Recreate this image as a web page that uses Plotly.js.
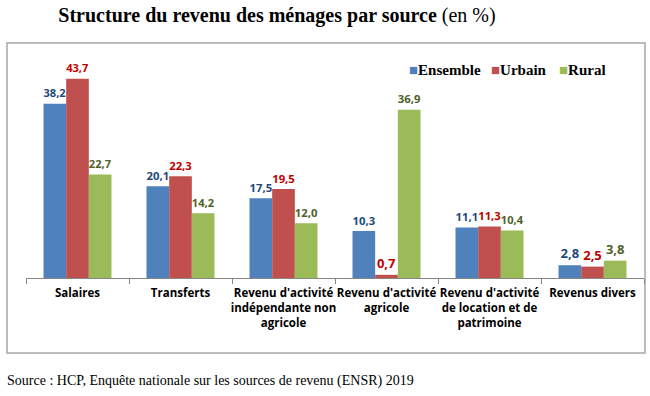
<!DOCTYPE html>
<html>
<head>
<meta charset="utf-8">
<script src="https://cdn.plot.ly/plotly-3.0.1.min.js"></script>
<style>html,body{margin:0;padding:0;background:#fff;}#chart{width:650px;height:396px;}</style>
</head>
<body>
<div id="chart"></div>
<script>
var categories = ["Salaires", "Transferts", "Revenu d'activité<br>indépendante non<br>agricole", "Revenu d'activité<br>agricole", "Revenu d'activité<br>de location et de<br>patrimoine", "Revenus divers"];
var ensemble = [38.2, 20.1, 17.5, 10.3, 11.1, 2.8];
var urbain = [43.7, 22.3, 19.5, 0.7, 11.3, 2.5];
var rural = [22.7, 14.2, 12.0, 36.9, 10.4, 3.8];
var seriesNames = ["Ensemble", "Urbain", "Rural"];
var barColors = ['#4F81BD', '#C0504D', '#9BBB59'];
var textColors = ['#1F497D', '#C00000', '#4F6228'];

function fmt(v){ return v.toFixed(1).replace('.', ','); }

function mk(i, vals){
  return {
    type: 'bar', name: seriesNames[i], x: categories, y: vals,
    marker: {color: barColors[i]},
    text: vals.map(fmt), textposition: 'outside', cliponaxis: false,
    textfont: {family: 'Open Sans, sans-serif', size: 13, color: textColors[i], weight: 'bold'},
    hoverinfo: 'skip'
  };
}

var data = [mk(0, ensemble), mk(1, urbain), mk(2, rural)];

// legend drawn as annotations (square + bold serif text)
var legendX = [407, 489, 557];
var annotations = seriesNames.map(function(n, i){
  return {
    text: '<span style="color:' + barColors[i] + '">■</span><b>' + n + '</b>',
    xref: 'paper', yref: 'paper', x: (legendX[i]-26)/618, y: (278-70)/228,
    xanchor: 'left', yanchor: 'middle', showarrow: false,
    font: {family: 'Liberation Serif, serif', size: 15, color: '#000'}
  };
});
annotations.push({
  text: 'Source : HCP, Enquête nationale sur les sources de revenu (ENSR) 2019',
  xref: 'paper', yref: 'paper', x: (5-26)/618, y: (278-381)/228,
  xanchor: 'left', yanchor: 'middle', showarrow: false,
  font: {family: 'Liberation Serif, serif', size: 14, color: '#000'}
});

var layout = {
  width: 650, height: 396,
  margin: {l: 26, r: 6, t: 50, b: 118},
  paper_bgcolor: '#fff', plot_bgcolor: '#fff',
  barmode: 'group', bargap: 0.34, bargroupgap: 0,
  showlegend: false,
  title: {
    text: '<b>Structure du revenu des ménages par source</b> (en %)',
    font: {family: 'Liberation Serif, serif', size: 20, color: '#000'},
    x: 277/650, xanchor: 'center', xref: 'container',
    y: 1 - 15/396, yanchor: 'middle', yref: 'container'
  },
  xaxis: {
    type: 'category', showline: true, linecolor: '#868686', linewidth: 1,
    ticks: 'outside', tickson: 'boundaries', ticklen: 5, tickcolor: '#868686',
    tickangle: 0, automargin: false, ticklabelstandoff: 4,
    tickfont: {family: 'Open Sans, sans-serif', size: 11.5, color: '#000', weight: 'bold'},
    showgrid: false, zeroline: false, fixedrange: true
  },
  yaxis: {
    range: [0, 50], visible: false, showgrid: false, zeroline: false, fixedrange: true
  },
  shapes: [{
    type: 'rect', xref: 'paper', yref: 'paper',
    x0: (7-26)/618, x1: (645-26)/618, y0: (278-353)/228, y1: (278-43)/228,
    line: {color: '#A6A6A6', width: 1.5}, fillcolor: 'rgba(0,0,0,0)', layer: 'below'
  }],
  annotations: annotations
};

Plotly.newPlot('chart', data, layout, {displayModeBar: false, staticPlot: true});
</script>
</body>
</html>
